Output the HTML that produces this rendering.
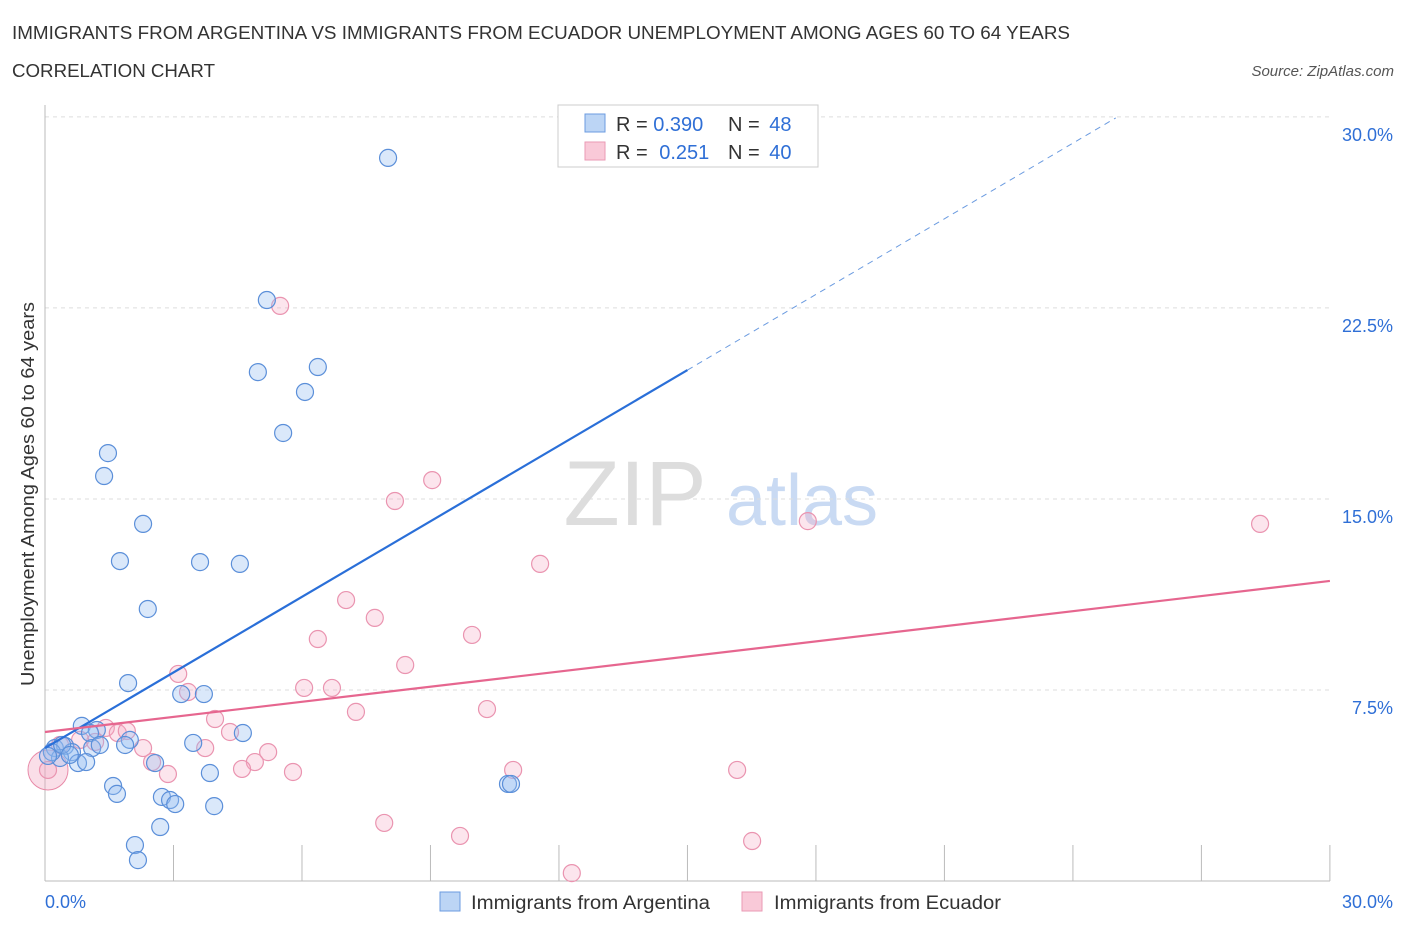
<!DOCTYPE html>
<html><head><meta charset="utf-8"><style>
body{margin:0;background:#fff;font-family:"Liberation Sans",sans-serif;}
svg text{font-family:"Liberation Sans",sans-serif;}
</style></head><body>
<svg id="c" width="1406" height="930" xmlns="http://www.w3.org/2000/svg">
<text x="12" y="39" font-size="18" fill="#333" textLength="1058" lengthAdjust="spacingAndGlyphs">IMMIGRANTS FROM ARGENTINA VS IMMIGRANTS FROM ECUADOR UNEMPLOYMENT AMONG AGES 60 TO 64 YEARS</text>
<text x="12" y="77" font-size="18" fill="#333" textLength="203" lengthAdjust="spacingAndGlyphs">CORRELATION CHART</text>
<text x="1394" y="76" font-size="15" fill="#555" font-style="italic" text-anchor="end">Source: ZipAtlas.com</text>
<text x="635" y="525" font-size="92" fill="#ddd" font-family="Liberation Serif" text-anchor="middle">ZIP</text>
<text x="802" y="525" font-size="72" fill="#c9daf3" text-anchor="middle">atlas</text>
<text transform="translate(34,494) rotate(-90)" font-size="18" fill="#333" text-anchor="middle" textLength="384" lengthAdjust="spacingAndGlyphs">Unemployment Among Ages 60 to 64 years</text>
<g id="axes"></g>
<g id="marks"></g>
<g>
<rect x="558" y="105" width="260" height="62" fill="#fff" stroke="#ccc"/>
<rect x="585" y="114" width="20" height="18" fill="#bcd5f5" stroke="#6b9be0"/>
<rect x="585" y="142" width="20" height="18" fill="#f9c9d8" stroke="#ea9ab4"/>
<text x="616" y="131" font-size="20" fill="#333">R = <tspan fill="#2f6fd6">0.390</tspan></text>
<text x="728" y="131" font-size="20" fill="#333">N = <tspan fill="#2f6fd6" dx="4">48</tspan></text>
<text x="616" y="159" font-size="20" fill="#333">R = <tspan fill="#2f6fd6" dx="6">0.251</tspan></text>
<text x="728" y="159" font-size="20" fill="#333">N = <tspan fill="#2f6fd6" dx="4">40</tspan></text>
</g>
<g>
<rect x="440" y="892" width="20" height="19" fill="#bcd5f5" stroke="#6b9be0"/>
<text x="471" y="909" font-size="19" fill="#333" textLength="239" lengthAdjust="spacingAndGlyphs">Immigrants from Argentina</text>
<rect x="742" y="892" width="20" height="19" fill="#f9c9d8" stroke="#ea9ab4"/>
<text x="774" y="909" font-size="19" fill="#333" textLength="227" lengthAdjust="spacingAndGlyphs">Immigrants from Ecuador</text>
</g>
</svg>
<script>
const yTicks=[7.5,15.0,22.5,30.0];
const yTickLabels=["7.5%","15.0%","22.5%","30.0%"];
const xTickLabels=["0.0%","30.0%"];
const argX=[8.01,5.18,4.97,6.37,6.07,5.56,1.47,1.38,2.29,1.75,3.62,4.55,2.40,1.94,3.18,3.71,0.86,1.21,1.05,0.23,0.47,1.10,0.63,0.35,0.77,0.96,0.16,1.98,1.87,3.46,4.62,2.57,1.59,1.68,3.85,2.73,2.92,3.04,3.95,2.69,2.10,2.17,10.81,10.88,0.07,1.28,0.40,0.58];
const argY=[28.39,22.81,19.98,20.18,19.20,17.59,16.80,15.90,14.02,12.56,12.52,12.45,10.68,7.77,7.34,7.34,6.09,5.93,5.81,5.22,5.30,5.22,5.06,4.83,4.63,4.67,5.06,5.54,5.34,5.42,5.81,4.63,3.73,3.42,4.24,3.30,3.18,3.02,2.94,2.12,1.41,0.82,3.81,3.81,4.91,5.34,5.34,4.95];
const ecuX=[5.49,9.04,8.17,17.81,28.37,11.56,7.03,7.70,6.37,9.97,8.41,3.11,3.34,6.05,6.70,10.32,7.26,3.97,1.42,1.70,1.91,1.17,4.32,2.29,3.74,5.21,2.50,4.90,4.60,2.87,5.79,10.93,16.16,7.92,9.69,16.51,12.30,0.35,0.82,0.07];
const ecuY=[22.58,15.74,14.92,14.13,14.02,12.45,11.03,10.33,9.50,9.66,8.48,8.13,7.42,7.58,7.58,6.75,6.64,6.36,6.01,5.81,5.89,5.46,5.85,5.22,5.22,5.06,4.67,4.67,4.40,4.20,4.28,4.36,4.36,2.28,1.77,1.57,0.31,5.34,5.54,4.36];
const argLine=[[0,5.22],[15.0,20.06]];
const argDash=[[15.0,20.06],[25.0,29.96]];
const ecuLine=[[0,5.85],[30,11.78]];
const NS="http://www.w3.org/2000/svg";
const sx=v=>45+v*42.83, sy=v=>881-v*25.47;
function mk(tag,attrs,parent){const e=document.createElementNS(NS,tag);for(const k in attrs)e.setAttribute(k,attrs[k]);parent.appendChild(e);return e;}
const ax=document.getElementById('axes'), mg=document.getElementById('marks');
yTicks.forEach((t,i)=>{
  const g=mk('line',{x1:45,x2:1330,y1:sy(t),y2:sy(t),stroke:'#ddd','stroke-dasharray':'4,4'},ax);
  
  
  const l=mk('text',{x:1393,y:sy(t)+24,'font-size':18,fill:'#2f6fd6','text-anchor':'end'},ax);
  l.textContent=yTickLabels[i];
  
  
});
const a1=mk('line',{x1:45,x2:45,y1:105,y2:881,stroke:'#bbb'},ax);


const a2=mk('line',{x1:45,x2:1330,y1:881,y2:881,stroke:'#bbb'},ax);


for(let i=1;i<=10;i++){const x=sx(i*3);const t=mk('line',{x1:x,x2:x,y1:845,y2:881,stroke:'#bbb'},ax);
  
  }
[[0,45,'start'],[30,1393,'end']].forEach((d,i)=>{const t=mk('text',{x:d[1],y:908,'font-size':18,fill:'#2f6fd6','text-anchor':d[2]},ax);t.textContent=xTickLabels[i];
  
  });
const bigP=mk('circle',{cx:sx(0.07),cy:sy(4.36),r:20,fill:'rgba(240,160,190,0.35)',stroke:'#e88aa8'},mg);


ecuX.forEach((x,i)=>{const c=mk('circle',{cx:sx(x),cy:sy(ecuY[i]),r:8.5,fill:'rgba(245,170,195,0.3)',stroke:'#ea94b0','stroke-width':1.2},mg);
  
  });
argX.forEach((x,i)=>{const c=mk('circle',{cx:sx(x),cy:sy(argY[i]),r:8.5,fill:'rgba(150,190,240,0.35)',stroke:'#5b8fd9','stroke-width':1.2},mg);
  
  });
const l1=mk('line',{x1:sx(argLine[0][0]),y1:sy(argLine[0][1]),x2:sx(argLine[1][0]),y2:sy(argLine[1][1]),stroke:'#2a6fd8','stroke-width':2.2},mg);


const l2=mk('line',{x1:sx(argDash[0][0]),y1:sy(argDash[0][1]),x2:sx(argDash[1][0]),y2:sy(argDash[1][1]),stroke:'#6b9be0','stroke-width':1,'stroke-dasharray':'6,5'},mg);


const l3=mk('line',{x1:sx(ecuLine[0][0]),y1:sy(ecuLine[0][1]),x2:sx(ecuLine[1][0]),y2:sy(ecuLine[1][1]),stroke:'#e6668f','stroke-width':2.2},mg);


</script>
</body></html>
